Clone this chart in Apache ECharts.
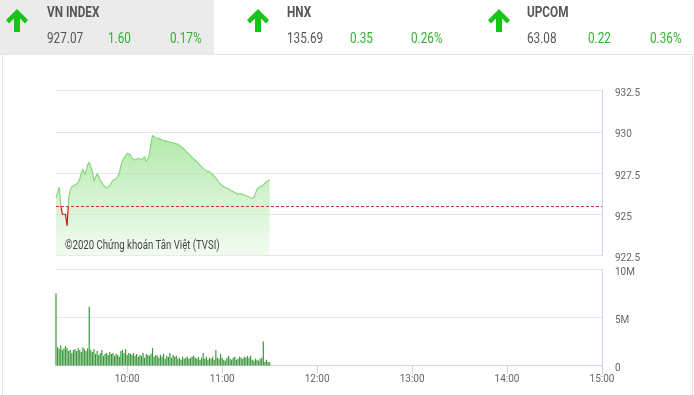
<!DOCTYPE html>
<html>
<head>
<meta charset="utf-8">
<script src="https://cdn.jsdelivr.net/npm/echarts@6/dist/echarts.min.js"></script>
<style>html,body{margin:0;padding:0;background:#fff}#c{width:694px;height:395px}</style>
</head>
<body>
<div id="c"></div>
<script>
// ---- header data ----
const indexNames = ['VN INDEX', 'HNX', 'UPCOM'];
const indexValues = ['927.07', '135.69', '63.08'];
const indexChanges = ['1.60', '0.35', '0.22'];
const indexPercents = ['0.17%', '0.26%', '0.36%'];

// ---- chart data (one point per minute from 09:15) ----
const sessionStart = 555; // 09:15 in minutes
const referencePrice = 925.47;
const priceValues = [
  926.0, 926.3, 926.65, 925.55, 925.0, 925.05, 925.0, 924.3, 925.9, 926.5,
  926.67, 926.72, 926.77, 926.85, 926.9, 927.15, 927.5, 927.75, 927.4, 927.6,
  928.0, 928.15, 928.05, 927.6, 927.0, 926.95, 927.45, 927.3, 927.05, 926.9,
  926.77, 926.65, 926.57, 926.65, 926.75, 926.9, 927.05, 927.1, 927.15, 927.3,
  927.5, 927.9, 928.25, 928.4, 928.5, 928.7, 928.79, 928.6, 928.38, 928.32,
  928.29, 928.35, 928.39, 928.32, 928.3, 928.4, 928.49, 928.2, 928.35, 928.6,
  929.3, 929.78, 929.7, 929.62, 929.63, 929.6, 929.55, 929.5, 929.47, 929.45,
  929.42, 929.4, 929.37, 929.35, 929.32, 929.3, 929.28, 929.25, 929.18, 929.1,
  929.05, 928.95, 928.85, 928.75, 928.65, 928.55, 928.45, 928.35, 928.25, 928.18,
  928.08, 927.97, 927.88, 927.78, 927.7, 927.63, 927.6, 927.58, 927.5, 927.4,
  927.3, 927.2, 927.05, 926.92, 926.83, 926.72, 926.65, 926.6, 926.57, 926.55,
  926.5, 926.4, 926.3, 926.32, 926.28, 926.22, 926.18, 926.22, 926.27, 926.18,
  926.1, 926.08, 926.03, 926.0, 925.98, 925.97, 926.25, 926.52, 926.58, 926.67,
  926.7, 926.77, 926.87, 926.97, 927.03, 927.07
];
// volume in millions of shares
const volumeValues = [
  7.5, 1.9, 1.7, 2.1, 1.6, 1.8, 2.0, 1.8, 1.5, 1.6,
  1.3, 1.6, 1.7, 1.5, 1.8, 1.6, 1.4, 1.9, 1.7, 1.5,
  1.8, 6.1, 1.6, 1.4, 1.7, 1.2, 1.5, 1.1, 1.3, 1.6,
  1.0, 1.2, 1.3, 1.1, 1.4, 1.2, 1.3, 1.0, 1.2, 1.1,
  0.9, 1.5, 1.6, 1.3, 1.7, 1.1, 1.3, 1.2, 1.1, 1.3,
  1.0, 1.2, 0.9, 1.1, 1.0, 1.3, 0.8, 1.2, 1.1, 1.0,
  1.2, 1.8, 0.9, 1.1, 1.0, 0.8, 1.1, 0.9, 1.2, 0.7,
  1.0, 0.9, 1.3, 0.8, 1.1, 0.9, 1.0, 0.7, 0.8, 0.6,
  0.9, 0.7, 0.8, 0.9, 0.7, 0.8, 0.9, 1.0, 0.8, 0.7,
  0.9, 0.6, 0.8, 1.3, 0.7, 0.9, 0.6, 0.8, 0.7, 0.9,
  0.6, 1.6, 0.8, 0.7, 1.2, 0.8, 0.6, 0.5, 0.8, 1.0,
  0.7, 0.6, 0.8, 0.9, 0.6, 0.7, 0.9, 0.8, 0.7, 0.9,
  0.8, 1.0, 0.8, 1.0, 0.6, 0.5, 0.7, 0.6, 0.5, 0.7,
  0.8, 2.5, 0.4, 0.6, 0.4, 0.3
];
const hourTicks = [600, 660, 720, 780, 840, 900];
const copyrightText = '©2020 Chứng khoán Tân Việt (TVSI)';

const FONT = "Roboto, sans-serif";
const GREEN_TXT = '#2db42d';
const ARROW = '#17c417';
const LINE_GREEN = '#86d780';
const LINE_RED = '#dd1111';
const SX = 0.84; // horizontal squeeze to mimic condensed type

const priceData = priceValues.map((v, i) => [sessionStart + i, v]);
const volumeData = volumeValues.map((v, i) => [sessionStart + i, v]);

function fmtTime(v) {
  const h = Math.floor(v / 60), m = v % 60;
  return (h < 10 ? '0' : '') + h + ':' + (m < 10 ? '0' : '') + m;
}

// header graphics
const arrowCx = [17, 258, 499];
const textX = [47, 287, 527];
const changeX = [108, 350, 588];
const pctX = [170, 411, 650];
const graphics = [
  { type: 'rect', shape: { x: 0, y: 0, width: 214, height: 54 }, style: { fill: '#ebebeb' }, silent: true },
  { type: 'line', shape: { x1: 0, y1: 54.5, x2: 694, y2: 54.5 }, style: { stroke: '#e2e2e2', lineWidth: 1 }, silent: true },
  { type: 'rect', shape: { x: 2.5, y: 54.5, width: 690, height: 360 }, style: { fill: null, stroke: '#e6e6e6', lineWidth: 1 }, silent: true }
];
function txt(x, y, s, font, fill, z, sx) {
  return { type: 'text', silent: true, x: x, y: y, scaleX: sx || SX, z: z || 1,
    style: { text: s, font: font, fill: fill, verticalAlign: 'middle' } };
}
indexNames.forEach((name, k) => {
  const cx = arrowCx[k];
  graphics.push({
    type: 'polygon', silent: true,
    shape: { points: [[cx, 9], [cx + 11, 20], [cx + 8, 23.5], [cx + 3, 18.5], [cx + 3, 32], [cx - 3, 32], [cx - 3, 18.5], [cx - 8, 23.5], [cx - 11, 20]] },
    style: { fill: ARROW }
  });
  graphics.push(txt(textX[k], 13.5, name, 'bold 14px ' + FONT, '#555'));
  graphics.push(txt(textX[k], 39, indexValues[k], '14px ' + FONT, '#555'));
  graphics.push(txt(changeX[k], 39, indexChanges[k], '14px ' + FONT, GREEN_TXT));
  graphics.push(txt(pctX[k], 39, indexPercents[k], '14px ' + FONT, GREEN_TXT));
});
graphics.push(txt(65, 246, copyrightText, '12px ' + FONT, '#444', 100, 0.8));

const chart = echarts.init(document.getElementById('c'), null, { renderer: 'canvas' });
const axisLabelBase = { color: '#666', fontSize: 10, fontFamily: FONT };

const option = {
  animation: false,
  backgroundColor: '#fff',
  graphic: graphics,
  grid: [
    { left: 56, right: 92, top: 90.5, height: 165 },
    { left: 56, right: 92, top: 269, height: 96.5 }
  ],
  xAxis: [
    { type: 'value', gridIndex: 0, min: 555, max: 900, show: false, splitLine: { show: false } },
    { type: 'value', gridIndex: 1, min: 555, max: 900,
      axisLine: { show: true, lineStyle: { color: '#ccd6eb' } },
      axisTick: { show: true, customValues: hourTicks, length: 8, lineStyle: { color: '#ccd6eb' } },
      axisLabel: Object.assign({ customValues: hourTicks, formatter: fmtTime, margin: 9 }, axisLabelBase),
      splitLine: { show: false } }
  ],
  yAxis: [
    { type: 'value', gridIndex: 0, position: 'right', min: 922.5, max: 932.5, interval: 2.5,
      axisLine: { show: true, lineStyle: { color: '#ccd6eb' } },
      axisTick: { show: false },
      axisLabel: Object.assign({ margin: 13, verticalAlign: 'top', lineHeight: 6 }, axisLabelBase),
      splitLine: { show: true, lineStyle: { color: '#e6e6e6' } } },
    { type: 'value', gridIndex: 1, position: 'right', min: 0, max: 10, interval: 5,
      axisLine: { show: true, lineStyle: { color: '#ccd6eb' } },
      axisTick: { show: false },
      axisLabel: Object.assign({ margin: 13, verticalAlign: 'top', lineHeight: 6, formatter: v => v === 0 ? '0' : v + 'M' }, axisLabelBase),
      splitLine: { show: true, lineStyle: { color: '#e6e6e6' } } }
  ],
  series: [
    {
      type: 'line', xAxisIndex: 0, yAxisIndex: 0, data: priceData,
      showSymbol: false, symbol: 'none',
      lineStyle: { width: 1.2, color: LINE_GREEN },
      areaStyle: {
        origin: 'start',
        color: { type: 'linear', x: 0, y: 0, x2: 0, y2: 1, colorStops: [
          { offset: 0, color: 'rgba(140,222,130,0.95)' },
          { offset: 1, color: 'rgba(235,250,232,0.9)' }
        ] }
      },
      markLine: {
        silent: true, symbol: 'none', label: { show: false },
        lineStyle: { color: '#c0392b', type: [3, 2], width: 1 },
        data: [{ yAxis: referencePrice }]
      }
    },
    {
      type: 'bar', xAxisIndex: 1, yAxisIndex: 1, data: volumeData,
      barWidth: 1.2, itemStyle: { color: '#3a983a' }
    }
  ]
};
chart.setOption(option);

// split the line colour at the reference price: green above, red below
const yRef = chart.convertToPixel({ xAxisIndex: 0, yAxisIndex: 0 }, [sessionStart, referencePrice])[1];
const H = 395;
chart.setOption({
  series: [{
    lineStyle: { color: { type: 'linear', global: true, x: 0, y: 0, x2: 0, y2: H, colorStops: [
      { offset: 0, color: LINE_GREEN },
      { offset: yRef / H, color: LINE_GREEN },
      { offset: yRef / H, color: LINE_RED },
      { offset: 1, color: LINE_RED }
    ] } }
  }, {}]
});
</script>
</body>
</html>
